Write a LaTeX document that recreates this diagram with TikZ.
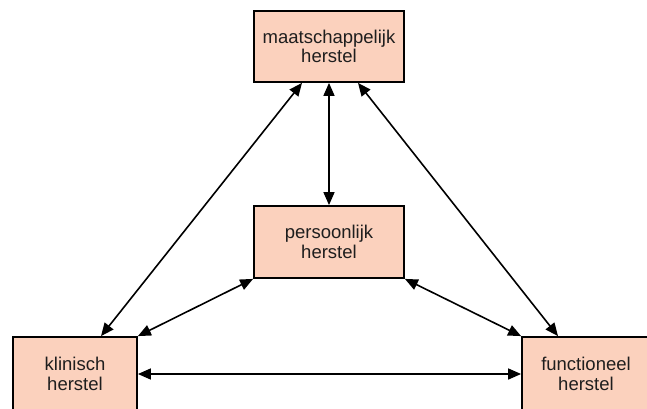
\documentclass[tikz,border=0pt]{standalone}
\usepackage{fontspec}
\setmainfont{Liberation Sans}
\usetikzlibrary{arrows.meta}
\definecolor{herstelfill}{HTML}{FBD1BD}
\definecolor{hersteltext}{HTML}{1E1E1E}
\begin{document}
\begin{tikzpicture}[x=1pt, y=1pt,
  herstelbox/.style={draw=black, line width=1.8pt, fill=herstelfill,
    text=hersteltext, align=center, inner sep=0pt,
    font=\fontsize{18.5}{19.5}\selectfont},
  link/.style={line width=1.6pt, {Triangle[length=13pt,width=11pt]}-{Triangle[length=13pt,width=11pt]}}]

  \useasboundingbox (0,0) rectangle (647,408);

  % Four recovery domains
  \node (maatsch) at (329, 361.5) [herstelbox, minimum width=150, minimum height=71] {maatschappelijk\\herstel};
  \node (persoon) at (329, 166) [herstelbox, minimum width=150, minimum height=72] {persoonlijk\\herstel};
  \node (klinisch) at (75, 34) [herstelbox, minimum width=124, minimum height=74] {klinisch\\herstel};
  \node (functie) at (586, 34) [herstelbox, minimum width=128, minimum height=74] {functioneel\\herstel};

  % Links from the top
  \draw[link] ([xshift=-27]maatsch.south) -- ([xshift=26]klinisch.north);
  \draw[link] (maatsch.south) -- (persoon.north);
  \draw[link] ([xshift=29]maatsch.south) -- ([xshift=-28]functie.north);

  % Links from the middle
  \draw[link] (persoon.south west) -- (klinisch.north east);
  \draw[link] (persoon.south east) -- (functie.north west);

  % Bottom link
  \draw[link] (klinisch.east) -- (functie.west);

\end{tikzpicture}
\end{document}
